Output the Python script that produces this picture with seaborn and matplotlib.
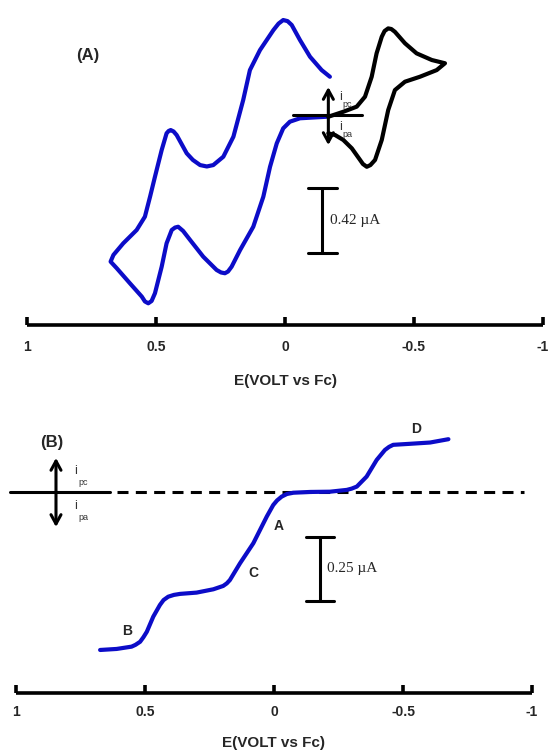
import matplotlib
matplotlib.use("Agg")
import matplotlib.pyplot as plt
import seaborn as sns
import pandas as pd

sns.set_theme(style="white")
plt.rcParams['font.family'] = ['Liberation Sans', 'DejaVu Sans']

# ---------------- data (E in V vs Fc, current in uA) ----------------
# Panel A: cyclic voltammogram, blue trace (traced in path order)
cv_blue_E = [-0.162, -0.058, -0.019, 0.007, 0.032, 0.058, 0.084, 0.123, 0.174, 0.207,
             0.221, 0.233, 0.248, 0.265, 0.317, 0.368, 0.395, 0.414, 0.426, 0.439,
             0.459, 0.478, 0.504, 0.517, 0.530, 0.543, 0.555, 0.601, 0.652, 0.676,
             0.665, 0.627, 0.575, 0.543, 0.523, 0.504, 0.478, 0.459, 0.451, 0.443,
             0.432, 0.420, 0.381, 0.357, 0.329, 0.303, 0.278, 0.239, 0.200, 0.162,
             0.136, 0.097, 0.045, 0.025, 0.007, -0.010, -0.026, -0.058, -0.097, -0.142,
             -0.174]
cv_blue_i = [-0.011, -0.021, -0.043, -0.086, -0.183, -0.334, -0.527, -0.721, -0.871, -0.979,
             -1.010, -1.021, -1.016, -1.000, -0.914, -0.806, -0.748, -0.721, -0.726, -0.742,
             -0.828, -0.979, -1.150, -1.200, -1.215, -1.203, -1.172, -1.086, -0.989, -0.946,
             -0.903, -0.828, -0.742, -0.656, -0.527, -0.398, -0.226, -0.118, -0.103, -0.097,
             -0.106, -0.129, -0.247, -0.290, -0.323, -0.332, -0.323, -0.269, -0.140, 0.097,
             0.290, 0.419, 0.548, 0.590, 0.613, 0.606, 0.581, 0.484, 0.376, 0.290,
             0.247]

# Panel A: black trace
cv_black_E = [-0.168, -0.226, -0.278, -0.310, -0.336, -0.355, -0.375, -0.386, -0.400, -0.412,
              -0.426, -0.465, -0.510, -0.569, -0.620, -0.588, -0.523, -0.465, -0.426, -0.400,
              -0.375, -0.349, -0.331, -0.317, -0.302, -0.291, -0.259, -0.226, -0.194, -0.168]
cv_black_i = [-0.011, 0.021, 0.054, 0.118, 0.247, 0.398, 0.505, 0.542, 0.559, 0.555,
              0.537, 0.463, 0.398, 0.355, 0.334, 0.290, 0.247, 0.215, 0.161, 0.032,
              -0.161, -0.290, -0.323, -0.334, -0.316, -0.290, -0.215, -0.161, -0.129, -0.118]

# Panel B: steady-state voltammogram
ss_E = [0.674, 0.610, 0.552, 0.537, 0.519, 0.506, 0.493, 0.468, 0.442, 0.428,
        0.410, 0.388, 0.364, 0.300, 0.235, 0.197, 0.183, 0.171, 0.132, 0.080,
        0.054, 0.028, 0.003, -0.012, -0.030, -0.050, -0.075, -0.140, -0.217, -0.282,
        -0.301, -0.321, -0.359, -0.398, -0.430, -0.446, -0.462, -0.527, -0.605, -0.676]
ss_i = [-0.617, -0.613, -0.604, -0.597, -0.585, -0.567, -0.546, -0.487, -0.441, -0.422,
        -0.409, -0.402, -0.398, -0.393, -0.380, -0.367, -0.357, -0.344, -0.279, -0.200,
        -0.148, -0.096, -0.051, -0.033, -0.018, -0.008, -0.003, 0.000, 0.001, 0.008,
        0.013, 0.021, 0.060, 0.125, 0.164, 0.176, 0.184, 0.188, 0.193, 0.206]

x_ticks = [1, 0.5, 0, -0.5, -1]
x_tick_labels = ["1", "0.5", "0", "-0.5", "-1"]
x_label = "E(VOLT vs Fc)"
scale_A = 0.42
scale_B = 0.25
wave_labels = ["A", "C", "B", "D"]
wave_E = [-0.019, 0.081, 0.570, -0.550]
wave_i = [-0.133, -0.316, -0.543, 0.246]

BLUE = "#0C0CC8"

fig = plt.figure(figsize=(5.48, 7.51), dpi=100)
axA = fig.add_axes([27 / 548, (751 - 325) / 751, 516 / 548, 320 / 751])
axB = fig.add_axes([16 / 548, (751 - 693) / 751, 516 / 548, 283 / 751])


def style_axis(ax, ylim, pad, labelpad):
    ax.set_xlim(1, -1)
    ax.set_ylim(*ylim)
    for s in ["left", "right", "top"]:
        ax.spines[s].set_visible(False)
    ax.spines["bottom"].set_linewidth(2.6)
    ax.spines["bottom"].set_color("black")
    ax.spines["bottom"].set_capstyle("butt")
    ax.set_yticks([])
    ax.set_xticks(x_ticks)
    ax.set_xticklabels(x_tick_labels, fontsize=10, fontweight="bold")
    ax.tick_params(axis="x", direction="in", length=6, width=2.6, color="black",
                   pad=pad, bottom=True)
    ax.set_xlabel(x_label, fontsize=11, fontweight="bold", labelpad=labelpad)
    ax.set_ylabel("")
    ax.patch.set_alpha(0)


# ---------------- Panel A ----------------
dfA1 = pd.DataFrame({"E": cv_blue_E, "i": cv_blue_i})
dfA2 = pd.DataFrame({"E": cv_black_E, "i": cv_black_i})
sns.lineplot(data=dfA1, x="E", y="i", sort=False, estimator=None, ax=axA,
             color=BLUE, linewidth=3.0, solid_joinstyle="round", solid_capstyle="round")
sns.lineplot(data=dfA2, x="E", y="i", sort=False, estimator=None, ax=axA,
             color="black", linewidth=3.0, solid_joinstyle="round", solid_capstyle="round")
style_axis(axA, (-1.355, 0.710), 11, 14)

# zero line + current arrows
axA.plot([-0.031, -0.298], [0, 0], color="black", lw=2.2)
arrow_kw = dict(arrowstyle="->,head_length=0.55,head_width=0.3", lw=2.2, color="black",
                shrinkA=0, shrinkB=0)
axA.annotate("", xy=(-0.168, 0.181), xytext=(-0.168, 0), arrowprops=arrow_kw)
axA.annotate("", xy=(-0.168, -0.194), xytext=(-0.168, 0), arrowprops=arrow_kw)
axA.text(-0.211, 0.116, "i", fontsize=9, color="#333333", ha="left", va="center")
axA.text(-0.222, 0.065, "pc", fontsize=6.5, color="#333333", ha="left", va="center")
axA.text(-0.211, -0.077, "i", fontsize=9, color="#333333", ha="left", va="center")
axA.text(-0.222, -0.128, "pa", fontsize=6.5, color="#333333", ha="left", va="center")

# scale bar
sbA_top, sbA_E = -0.47, -0.145
axA.plot([sbA_E, sbA_E], [sbA_top, sbA_top - scale_A], color="black", lw=2.2)
axA.plot([sbA_E + 0.056, sbA_E - 0.056], [sbA_top, sbA_top], color="black", lw=2.2)
axA.plot([sbA_E + 0.056, sbA_E - 0.056], [sbA_top - scale_A, sbA_top - scale_A],
         color="black", lw=2.2)
axA.text(-0.174, sbA_top - scale_A / 2, f"{scale_A} \u00b5A", fontsize=11,
         family="Liberation Serif", ha="left", va="center")
axA.text(0.764, 0.387, "(A)", fontsize=12, fontweight="bold", ha="center", va="center")

# ---------------- Panel B ----------------
dfB = pd.DataFrame({"E": ss_E, "i": ss_i})
sns.lineplot(data=dfB, x="E", y="i", sort=False, estimator=None, ax=axB,
             color=BLUE, linewidth=3.0, solid_joinstyle="round", solid_capstyle="round")
style_axis(axB, (-0.785, 0.320), 9, 12)

axB.plot([1.023, 0.636], [0, 0], color="black", lw=2.2, clip_on=False)
axB.plot([0.609, -0.969], [0, 0], color="black", lw=2.2, dashes=(3.6, 2.4), zorder=1)
axB.annotate("", xy=(0.845, 0.133), xytext=(0.845, 0), arrowprops=arrow_kw)
axB.annotate("", xy=(0.845, -0.137), xytext=(0.845, 0), arrowprops=arrow_kw)
axB.text(0.775, 0.082, "i", fontsize=9, color="#333333", ha="left", va="center")
axB.text(0.760, 0.037, "pc", fontsize=6.5, color="#333333", ha="left", va="center")
axB.text(0.775, -0.055, "i", fontsize=9, color="#333333", ha="left", va="center")
axB.text(0.760, -0.098, "pa", fontsize=6.5, color="#333333", ha="left", va="center")

sbB_top, sbB_E = -0.175, -0.178
axB.plot([sbB_E, sbB_E], [sbB_top, sbB_top - scale_B], color="black", lw=2.2)
axB.plot([sbB_E + 0.054, sbB_E - 0.054], [sbB_top, sbB_top], color="black", lw=2.2)
axB.plot([sbB_E + 0.054, sbB_E - 0.054], [sbB_top - scale_B, sbB_top - scale_B],
         color="black", lw=2.2)
axB.text(-0.205, sbB_top - scale_B / 2, f"{scale_B} \u00b5A", fontsize=11,
         family="Liberation Serif", ha="left", va="center")
axB.text(0.860, 0.195, "(B)", fontsize=12, fontweight="bold", ha="center", va="center")
for lab, e, c in zip(wave_labels, wave_E, wave_i):
    axB.text(e, c, lab, fontsize=10, fontweight="bold", ha="center", va="center")

fig.savefig("out.png", dpi=100)
